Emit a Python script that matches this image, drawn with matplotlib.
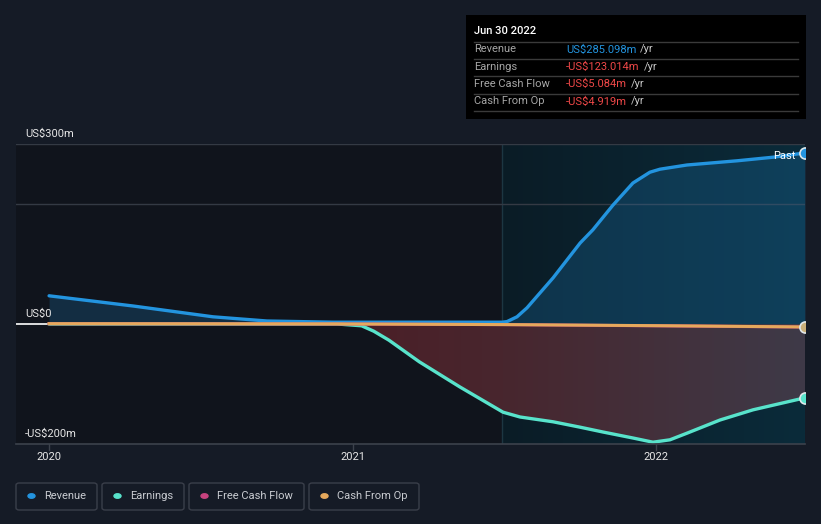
import numpy as np
import matplotlib
matplotlib.use("Agg")
import matplotlib.pyplot as plt
from matplotlib.patches import Rectangle, FancyBboxPatch
from matplotlib.colors import to_rgb

plt.rcParams['font.family'] = ['Roboto', 'DejaVu Sans']

W, H = 821, 524

# data (US$m), x in decimal years
rev_t = [2020.0, 2020.277, 2020.54, 2020.718, 2020.936, 2021.2, 2021.493, 2021.509, 2021.542,
         2021.575, 2021.618, 2021.661, 2021.707, 2021.75, 2021.792, 2021.858, 2021.924,
         2021.98, 2022.013, 2022.102, 2022.267, 2022.386, 2022.491]
rev_v = [47, 30, 12, 5, 3, 3, 3, 4, 12, 27, 52, 77, 107, 135, 157, 198, 235, 253, 258, 265,
         272, 278, 285.098]

earn_t = [2020.0, 2020.95, 2021.03, 2021.07, 2021.12, 2021.17, 2021.22, 2021.354, 2021.496,
          2021.552, 2021.661, 2021.75, 2021.825, 2021.924, 2021.99, 2022.046, 2022.102,
          2022.211, 2022.32, 2022.491]
earn_v = [0, 0, -3, -12, -27, -45, -63, -105, -147, -155, -163, -172, -180, -190, -197, -193,
          -182, -160, -143, -123.014]

fcf_t = [2020.0, 2020.5, 2021.0, 2021.5, 2022.0, 2022.491]
fcf_v = [0.5, 0.3, 0, -1.0, -3.0, -5.084]
cfo_t = [2020.0, 2020.5, 2021.0, 2021.5, 2022.0, 2022.491]
cfo_v = [0.5, 0.3, 0, -1.0, -2.8, -4.919]

years = [2020, 2021, 2022]
year_labels = ['2020', '2021', '2022']
ytick_vals = [300, 0, -200]
ytick_labels = ['US$300m', 'US$0', '-US$200m']

C_REV = '#2394df'
C_EARN = '#58e3cb'
C_FCF = '#c7437f'
C_CFO = '#e6a95c'
BG = '#151b26'

x0, x1 = 2019.891, 2022.491
hl_start = 2021.493


def fx(px):
    return px / W


def fy(py):
    return 1 - py / H


fig = plt.figure(figsize=(W / 100, H / 100), dpi=100, facecolor=BG)
ax = fig.add_axes([fx(16), fy(444), fx(805) - fx(16), fy(144) - fy(444)])
ax.set_facecolor('#10141c')
ax.set_xlim(x0, x1)
ax.set_ylim(-200, 300)
for s in ax.spines.values():
    s.set_visible(False)
ax.set_xticks([])
ax.set_yticks([])

# highlighted last-year band with horizontal gradient
cols = np.linspace(0, 1, 256)
c_a = np.array(to_rgb('#0b1c26'))
c_b = np.array(to_rgb('#0a2b3a'))
grad = (c_a[None, :] * (1 - cols[:, None]) + c_b[None, :] * cols[:, None])[None, :, :]
ax.imshow(grad, extent=[hl_start, x1, -200, 300], aspect='auto', zorder=0.5)
ax.axvline(hl_start, color='#1d3642', lw=1, zorder=0.6)

# gridlines
for v in [300, 200]:
    ax.axhline(v, color='#343a44', lw=1, zorder=0.7)
ax.plot([x0, 2020.0], [0, 0], color='white', lw=1.2, zorder=3)

# revenue fill
ax.fill_between(rev_t, rev_v, 0, color=C_REV, alpha=0.2, lw=0, zorder=1)

# earnings fill with gradient from red to grey
poly = ax.fill_between(earn_t, earn_v, 0, color='none', lw=0, zorder=1)
xs = np.linspace(2021.0, x1, 256)
r = np.interp(xs, [2021.0, hl_start, x1], [75, 72, 62]) / 255
g = np.interp(xs, [2021.0, hl_start, x1], [31, 38, 58]) / 255
b = np.interp(xs, [2021.0, hl_start, x1], [39, 46, 72]) / 255
egrad = np.stack([r, g, b], axis=1)[None, :, :]
im = ax.imshow(egrad, extent=[2021.0, x1, -200, 0], aspect='auto', zorder=1)
im.set_clip_path(poly.get_paths()[0], transform=ax.transData)

# lines
ax.plot(rev_t, rev_v, color=C_REV, lw=2.4, zorder=4, solid_capstyle='round')
ax.plot(earn_t, earn_v, color=C_EARN, lw=2.4, zorder=4, solid_capstyle='round')
ax.plot(fcf_t, fcf_v, color=C_FCF, lw=2.2, zorder=4)
ax.plot(cfo_t, cfo_v, color=C_CFO, lw=2.2, zorder=4.1)

for t, v, c in [(rev_t, rev_v, C_REV), (earn_t, earn_v, C_EARN), (cfo_t, cfo_v, '#c9b07a')]:
    ax.plot(t[-1], v[-1], 'o', ms=8, mfc=c, mec='#dfe7ea', mew=1.2, zorder=5)

ax.text(2022.46, 280, 'Past', color='white', fontsize=8, ha='right', va='center', zorder=6)

# y labels
for v, lab in zip(ytick_vals, ytick_labels):
    ax.text(x0 + 9 / 303.5, v + 8, lab, color='#e6e6e6', fontsize=8, ha='left',
            va='bottom', zorder=6)

# bottom axis and ticks
fig.add_artist(plt.Line2D([fx(16), fx(805)], [fy(444), fy(444)], color='#3c424c', lw=1.2))
for yr, lab in zip(years, year_labels):
    px = 49 + (yr - 2020) * 303.5
    fig.add_artist(plt.Line2D([fx(px), fx(px)], [fy(444), fy(450)], color='#3c424c', lw=1))
    fig.text(fx(px), fy(457), lab, color='#e6e6e6', fontsize=8, ha='center', va='center')

# legend boxes
legend = [('Revenue', C_REV, 16, 97), ('Earnings', C_EARN, 102, 184),
          ('Free Cash Flow', C_FCF, 189, 304), ('Cash From Op', C_CFO, 309, 419)]
for name, c, a, bnd in legend:
    fig.patches.append(FancyBboxPatch((fx(a), fy(510)), fx(bnd) - fx(a), fy(483) - fy(510),
                                      boxstyle='round,pad=0,rounding_size=0.004',
                                      transform=fig.transFigure, fc=BG, ec='#3a3f4a', lw=1))
    fig.patches.append(plt.Circle((fx(a + 15.5), fy(496)), 3.5 / W, transform=fig.transFigure,
                                  color=c))
    fig.text(fx(a + 28), fy(496), name, color='#c9ccd1', fontsize=8, ha='left', va='center')

# tooltip box
fig.patches.append(Rectangle((fx(466), fy(119)), fx(806) - fx(466), fy(15) - fy(119),
                             transform=fig.transFigure, fc='black', ec='none'))
fig.text(fx(474), fy(31), 'Jun 30 2022', color='white', fontsize=8, ha='left', va='center',
         fontweight='medium')
for yy in [41.5, 58.5, 76, 93.5, 111]:
    fig.add_artist(plt.Line2D([fx(474), fx(798)], [fy(yy), fy(yy)], color='#3a3a3a', lw=1))
rows = [('Revenue', 'US$285.098m', C_REV), ('Earnings', '-US$123.014m', '#f04848'),
        ('Free Cash Flow', '-US$5.084m', '#f04848'), ('Cash From Op', '-US$4.919m', '#f04848')]
renderer = fig.canvas.get_renderer()
for i, (lab, val, c) in enumerate(rows):
    yy = 49.5 + i * 17.3
    fig.text(fx(474), fy(yy), lab, color='#a6a6a6', fontsize=8, ha='left', va='center')
    tv = fig.text(fx(566), fy(yy), val, color=c, fontsize=8, ha='left', va='center')
    bb = tv.get_window_extent(renderer)
    fig.text(bb.x1 / W + fx(4), fy(yy), '/yr', color='#c9c9c9', fontsize=8, ha='left',
             va='center')

fig.savefig('out.png', dpi=100, facecolor=BG)
